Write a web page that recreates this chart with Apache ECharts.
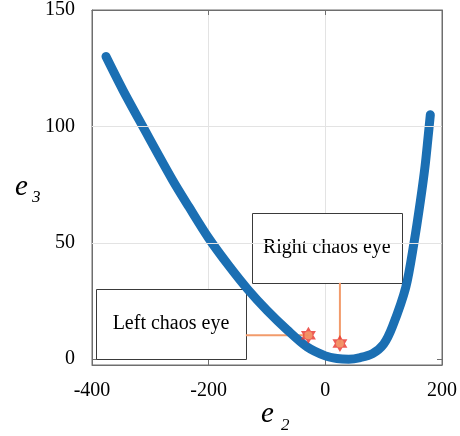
<!DOCTYPE html>
<html>
<head>
<meta charset="utf-8">
<script src="https://cdn.jsdelivr.net/npm/echarts@6/dist/echarts.min.js"></script>
<style>
  html, body { margin: 0; padding: 0; background: #ffffff; }
  #chart { width: 460px; height: 436px; }
</style>
</head>
<body>
<div id="chart"></div>
<script>
// Trajectory projected on the (e2, e3) plane
const e2Values = [-376, -347, -313, -262, -234, -200, -165, -133, -100, -65, -31, 0, 20, 40, 60, 81, 100, 115, 138, 152, 163, 171, 176, 180];
const e3Values = [130, 115.6, 100, 77, 65.5, 52, 40, 30, 21, 12.5, 5.2, 1.4, 0.3, 0, 0.7, 2.4, 6.5, 14, 31, 50, 68, 83, 95, 105];

// Chaos eye locations
const eyeNames = ['Left chaos eye', 'Right chaos eye'];
const eyeE2 = [-29, 25];
const eyeE3 = [10.3, 6.7];

// Axis ticks
const xTicks = [-400, -200, 0, 200];
const yTicks = [0, 50, 100, 150];

const SERIF = '"Liberation Serif", "Times New Roman", serif';
const FRAME = '#6e6e6e';
const GRIDLINE = '#e3e3e3';
const HEXAGRAM = 'path://M50 0L64.43 25L93.3 25L78.87 50L93.3 75L64.43 75L50 100L35.57 75L6.7 75L21.13 50L6.7 25L35.57 25Z';

const curve = e2Values.map((x, i) => [x, e3Values[i]]);
const eyes = eyeE2.map((x, i) => [x, eyeE3[i]]);

const option = {
  animation: false,
  backgroundColor: '#ffffff',
  grid: { left: 92, right: 13, top: 10, bottom: 71, show: true, borderColor: FRAME, borderWidth: 1, backgroundColor: 'transparent' },
  xAxis: [{
    type: 'value', min: xTicks[0], max: xTicks[xTicks.length - 1], interval: 200,
    axisLine: { show: true, onZero: false, lineStyle: { color: FRAME } },
    axisTick: { show: true, inside: true, length: 5, lineStyle: { color: FRAME } },
    axisLabel: { color: '#000', fontFamily: SERIF, fontSize: 20, margin: 16 },
    splitLine: { show: true, lineStyle: { color: GRIDLINE } }
  }, {
    type: 'value', position: 'top', min: xTicks[0], max: xTicks[xTicks.length - 1], interval: 200,
    axisLine: { show: true, onZero: false, lineStyle: { color: FRAME } },
    axisTick: { show: true, inside: true, length: 5, lineStyle: { color: FRAME } },
    axisLabel: { show: false }, splitLine: { show: false }
  }],
  yAxis: [{
    type: 'value', min: -2.5, max: 150,
    axisLine: { show: true, onZero: false, lineStyle: { color: FRAME } },
    axisTick: { show: true, inside: true, length: 5, customValues: yTicks, lineStyle: { color: FRAME } },
    axisLabel: { color: '#000', fontFamily: SERIF, fontSize: 20, margin: 17, customValues: yTicks },
    splitLine: { show: false }
  }, {
    type: 'value', position: 'right', min: -2.5, max: 150,
    axisLine: { show: true, onZero: false, lineStyle: { color: FRAME } },
    axisTick: { show: true, inside: true, length: 5, customValues: yTicks, lineStyle: { color: FRAME } },
    axisLabel: { show: false, customValues: yTicks }, splitLine: { show: false }
  }],
  series: [{
    // horizontal grid lines at the inner y ticks
    type: 'line', data: [], silent: true,
    markLine: {
      silent: true, symbol: 'none', label: { show: false },
      lineStyle: { color: GRIDLINE, type: 'solid', width: 1 },
      data: yTicks.slice(1, -1).map(v => ({ yAxis: v }))
    },
    z: 0
  }, {
    name: 'trajectory', type: 'line', data: curve, clip: false,
    smooth: 0.3, showSymbol: false,
    lineStyle: { color: '#1b6fb3', width: 9, cap: 'round', join: 'round' },
    z: 2
  }, {
    name: 'eye star', type: 'scatter', data: eyes, symbol: HEXAGRAM, symbolSize: [15, 17],
    itemStyle: { color: '#e8322b' }, z: 4
  }, {
    name: 'eye centre', type: 'scatter', data: eyes, symbol: 'circle', symbolSize: 8,
    itemStyle: { color: '#f3a06c' }, z: 5
  }]
};

const chart = echarts.init(document.getElementById('chart'), null, { renderer: 'canvas' });
chart.setOption(option);

const px = (x, y) => chart.convertToPixel({ xAxisIndex: 0, yAxisIndex: 0 }, [x, y]);

// annotation boxes in data units: [e2 left, e2 right, e3 top, e3 bottom]
const boxes = [[-393, -136.3, 30.1, 0], [-126, 131, 62.9, 32.8]];
const graphics = [];
boxes.forEach((b, i) => {
  const p0 = px(b[0], b[2]);
  const p1 = px(b[1], b[3]);
  graphics.push({
    type: 'rect', z: 1,
    shape: { x: Math.round(p0[0]) + 0.5, y: Math.round(p0[1]) + 0.5, width: Math.round(p1[0] - p0[0]), height: Math.round(p1[1] - p0[1]) },
    style: { fill: '#ffffff', stroke: '#3a3a3a', lineWidth: 1 }
  });
  graphics.push({
    type: 'text', z: 1,
    x: (p0[0] + p1[0]) / 2, y: (p0[1] + p1[1]) / 2,
    style: { text: eyeNames[i], fill: '#000', font: '20px ' + SERIF, align: 'center', verticalAlign: 'middle' }
  });
});
// connectors from each box to its eye
const leftStart = px(boxes[0][1], eyeE3[0]);
const leftEnd = px(eyeE2[0], eyeE3[0]);
const rightStart = px(eyeE2[1], boxes[1][3]);
const rightEnd = px(eyeE2[1], eyeE3[1]);
[[leftStart, leftEnd], [rightStart, rightEnd]].forEach(seg => {
  graphics.push({
    type: 'line', z: 1,
    shape: { x1: seg[0][0], y1: seg[0][1], x2: seg[1][0], y2: seg[1][1] },
    style: { stroke: '#f29b6b', lineWidth: 2 }
  });
});
// axis titles with subscripts
graphics.push(
  { type: 'text', left: 261, top: 400, style: { text: 'e', fill: '#000', font: 'italic 29px ' + SERIF } },
  { type: 'text', left: 281, top: 417, style: { text: '2', fill: '#000', font: 'italic 17px ' + SERIF } },
  { type: 'text', left: 15, top: 173, style: { text: 'e', fill: '#000', font: 'italic 29px ' + SERIF } },
  { type: 'text', left: 32, top: 189, style: { text: '3', fill: '#000', font: 'italic 17px ' + SERIF } }
);
chart.setOption({ graphic: graphics });
</script>
</body>
</html>
